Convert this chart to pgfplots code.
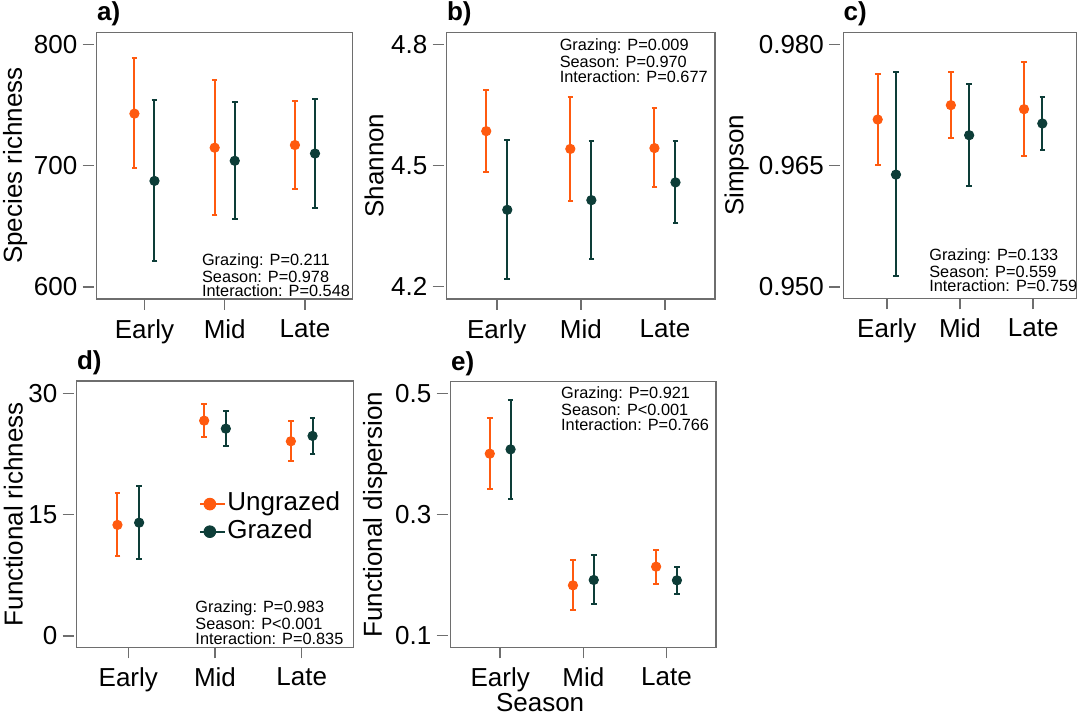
\documentclass[border=0pt]{standalone}
\usepackage{fontspec}
\setmainfont{Liberation Sans}
\usepackage{pgfplots}
\pgfplotsset{compat=1.18}
\definecolor{ung}{HTML}{FF5A0F}
\definecolor{grz}{HTML}{0D3D38}
\definecolor{frm}{HTML}{6E6E6E}
\newcommand{\bigf}{\fontsize{13}{15}\selectfont}
\newcommand{\pfont}{\fontsize{8.15}{7.3}\selectfont}
\pgfplotsset{
  panel/.style={
    scale only axis, anchor=north west,
    xmin=0.405, xmax=3.595,
    xtick={1,2,3}, xticklabels={Early,Mid,Late},
    tick align=outside, xtick pos=bottom, ytick pos=left,
    major tick length=5.5pt,
    axis line style={frm, line width=0.75pt},
    every tick/.style={frm, line width=0.75pt},
    ytick style={xshift=-1.5pt},
    tick label style={font=\bigf},
    /pgf/number format/assume math mode=true,
    label style={font=\bigf},
    yticklabel style={inner sep=0pt, anchor=east, xshift=-4pt},
    xticklabel style={inner sep=0pt, anchor=north, yshift=-4.5pt},
    ylabel style={at={(axis description cs:#1,0.5)}, anchor=center},
    every axis title shift=0pt,
    title style={at={(axis description cs:0,1)}, anchor=base west, inner sep=0pt, yshift=5.8pt, font=\bfseries\bigf},
  },
  pung/.style={color=ung, line width=1pt, only marks, mark=*, mark size=2.3pt,
    mark options={solid, fill=ung, draw=ung, line width=0.5pt},
    error bars/y dir=both, error bars/y explicit,
    error bars/error bar style={line width=1pt, color=ung},
    error bars/error mark options={rotate=90, mark size=1.4pt, line width=1pt, color=ung}},
  pgrz/.style={color=grz, line width=1pt, only marks, mark=*, mark size=2.3pt,
    mark options={solid, fill=grz, draw=grz, line width=0.5pt},
    error bars/y dir=both, error bars/y explicit,
    error bars/error bar style={line width=1pt, color=grz},
    error bars/error mark options={rotate=90, mark size=1.4pt, line width=1pt, color=grz}},
}
\begin{document}
\begin{tikzpicture}
% a) Species richness
\begin{axis}[panel=-0.319, at={(48.35pt,-16.15pt)}, width=128pt, height=133.35pt,
  ymin=590, ymax=810, ytick={600,700,800}, ylabel={Species richness}, title={a)}]
\addplot[pung] coordinates {(0.875,742.9) += (0,45.6) -= (0,44.9) (1.875,714.8) += (0,56.2) -= (0,55.8) (2.875,717.0) += (0,36.6) -= (0,36.2)};
\addplot[pgrz] coordinates {(1.125,687.4) += (0,66.6) -= (0,66.4) (2.125,704.0) += (0,48.5) -= (0,48.0) (3.125,710.0) += (0,44.7) -= (0,45.0)};
\node[anchor=north west, inner sep=0pt, align=left, font=\pfont] at (rel axis cs:0.41,0.171) {Grazing: P=0.211\\Season: P=0.978\\Interaction: P=0.548};
\end{axis}
% b) Shannon
\begin{axis}[panel=-0.271, at={(223.35pt,-16.15pt)}, width=134.15pt, height=133.35pt,
  ymin=4.169, ymax=4.830, ytick={4.2,4.5,4.8}, ylabel={Shannon}, title={b)},
  yticklabel={\pgfmathprintnumber[fixed,fixed zerofill,precision=1]{\tick}}]
\addplot[pung] coordinates {(0.875,4.585) += (0,0.101) -= (0,0.101) (1.875,4.541) += (0,0.129) -= (0,0.129) (2.875,4.543) += (0,0.099) -= (0,0.097)};
\addplot[pgrz] coordinates {(1.125,4.390) += (0,0.173) -= (0,0.172) (2.125,4.414) += (0,0.146) -= (0,0.146) (3.125,4.458) += (0,0.103) -= (0,0.101)};
\node[anchor=north west, inner sep=0pt, align=left, font=\pfont] at (rel axis cs:0.42,0.977) {Grazing: P=0.009\\Season: P=0.970\\Interaction: P=0.677};
\end{axis}
% c) Simpson
\begin{axis}[panel=-0.457, at={(421.65pt,-16.15pt)}, width=116.7pt, height=133pt,
  ymin=0.9486, ymax=0.9815, ytick={0.950,0.965,0.980}, ylabel={Simpson}, title={c)},
  yticklabel={\pgfmathprintnumber[fixed,fixed zerofill,precision=3]{\tick}}]
\addplot[pung] coordinates {(0.875,0.97071) += (0,0.00562) -= (0,0.00565) (1.875,0.97249) += (0,0.00413) -= (0,0.00405) (2.875,0.97199) += (0,0.00582) -= (0,0.00573)};
\addplot[pgrz] coordinates {(1.125,0.96390) += (0,0.01263) -= (0,0.01250) (2.125,0.96877) += (0,0.00628) -= (0,0.00627) (3.125,0.97022) += (0,0.00330) -= (0,0.00326)};
\node[anchor=north west, inner sep=0pt, align=left, font=\pfont] at (rel axis cs:0.367,0.188) {Grazing: P=0.133\\Season: P=0.559\\Interaction: P=0.759};
\end{axis}
% d) Functional richness
\begin{axis}[panel=-0.229, at={(38.35pt,-190.5pt)}, width=138.3pt, height=133.15pt,
  ymin=-1.40, ymax=31.52, ytick={0,15,30}, ylabel={Functional richness}, title={d)},
  legend style={at={(rel axis cs:0.442,0.486)}, anchor=west, draw=none, fill=none, inner sep=0pt,
    font=\bigf, nodes={inner sep=0.5pt, text height=9.5pt, text depth=2.8pt}, row sep=0.5pt},
  legend cell align=left,
  legend image code/.code={\path (0pt,0pt) -- (12.5pt,0pt); \draw[mark repeat=2, mark phase=2, #1] plot coordinates {(0pt,0pt)(4.75pt,0pt)(9.5pt,0pt)};}]
\addplot[forget plot, pung] coordinates {(0.875,13.73) += (0,3.91) -= (0,3.84) (1.875,26.62) += (0,2.10) -= (0,2.02) (2.875,24.07) += (0,2.51) -= (0,2.48)};
\addplot[forget plot, pgrz] coordinates {(1.125,14.01) += (0,4.53) -= (0,4.49) (2.125,25.63) += (0,2.19) -= (0,2.14) (3.125,24.73) += (0,2.27) -= (0,2.19)};
\addlegendimage{color=ung, line width=1pt, mark=*, mark size=2.9pt, mark options={solid, fill=ung, draw=ung, line width=0.5pt}}
\addlegendentry{Ungrazed}
\addlegendimage{color=grz, line width=1pt, mark=*, mark size=2.9pt, mark options={solid, fill=grz, draw=grz, line width=0.5pt}}
\addlegendentry{Grazed}
\node[anchor=north west, inner sep=0pt, align=left, font=\pfont] at (rel axis cs:0.428,0.175) {Grazing: P=0.983\\Season: P<0.001\\Interaction: P=0.835};
\end{axis}
% e) Functional dispersion
\begin{axis}[panel=-0.285, at={(225.35pt,-190.85pt)}, width=132.65pt, height=132.8pt,
  ymin=0.0802, ymax=0.5193, ytick={0.1,0.3,0.5}, ylabel={Functional dispersion}, title={e)},
  yticklabel={\pgfmathprintnumber[fixed,fixed zerofill,precision=1]{\tick}},
  xlabel={Season}, xlabel style={at={(axis description cs:0.337,-0.172)}, anchor=north, inner sep=0pt}]
\addplot[pung] coordinates {(0.875,0.4003) += (0,0.0595) -= (0,0.0590) (1.875,0.1826) += (0,0.0414) -= (0,0.0407) (2.875,0.2135) += (0,0.0281) -= (0,0.0287)};
\addplot[pgrz] coordinates {(1.125,0.4074) += (0,0.0816) -= (0,0.0815) (2.125,0.1915) += (0,0.0407) -= (0,0.0403) (3.125,0.1909) += (0,0.0220) -= (0,0.0220)};
\node[anchor=north west, inner sep=0pt, align=left, font=\pfont] at (rel axis cs:0.415,0.981) {Grazing: P=0.921\\Season: P<0.001\\Interaction: P=0.766};
\end{axis}
\pgfresetboundingbox
\path[use as bounding box] (0pt,0pt) rectangle (540pt,-360.5pt);
\end{tikzpicture}
\end{document}
